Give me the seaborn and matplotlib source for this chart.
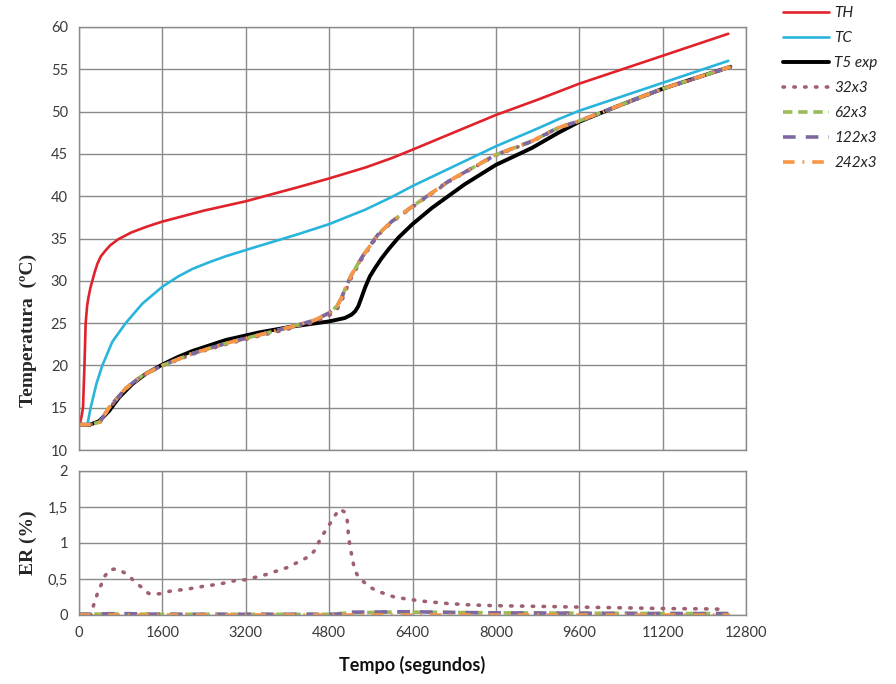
import matplotlib
matplotlib.use("Agg")
import matplotlib.pyplot as plt
import seaborn as sns

# ---------------- data ----------------
th_t = [13, 50, 77, 105, 128, 155, 180, 220, 256, 300, 352, 420, 512, 600, 750, 1000, 1300, 1600, 2400, 3200, 4200, 4800, 5500, 6000, 6400, 8000, 8800, 9600, 11200, 12460]
th_v = [13, 14, 15, 20, 25, 27, 28, 29.2, 30, 31, 32, 32.9, 33.6, 34.2, 34.9, 35.7, 36.4, 37.0, 38.3, 39.4, 41.06, 42.1, 43.4, 44.5, 45.5, 49.6, 51.4, 53.3, 56.6, 59.2]

tc_t = [160, 224, 333, 448, 640, 896, 1216, 1600, 1900, 2176, 2500, 2816, 3392, 4200, 4800, 5490, 6000, 6400, 8000, 8800, 9200, 9600, 11200, 12460]
tc_v = [13, 15, 17.8, 20, 22.8, 25, 27.3, 29.3, 30.5, 31.4, 32.2, 32.9, 34.0, 35.5, 36.7, 38.4, 39.9, 41.2, 45.9, 48.0, 49.1, 50.1, 53.4, 56.0]

exp_t = [0, 192, 384, 576, 768, 1024, 1280, 1600, 1900, 2176, 2816, 3456, 4100, 4800, 5100, 5230, 5300, 5360, 5420, 5490, 5580, 5680, 5800, 5950, 6130, 6400, 6770, 7400, 8000, 8690, 9200, 9600, 10400, 11200, 12000, 12500]
exp_v = [13, 12.95, 13.4, 14.6, 16.2, 17.8, 19.0, 20.1, 21.0, 21.7, 23.0, 23.9, 24.6, 25.2, 25.6, 26.0, 26.4, 27.0, 28.0, 29.2, 30.5, 31.5, 32.6, 33.8, 35.1, 36.7, 38.6, 41.4, 43.7, 45.7, 47.5, 48.8, 50.8, 52.7, 54.3, 55.3]

sim_t = [0, 200, 400, 576, 896, 1216, 1600, 2176, 2816, 3456, 4096, 4500, 4800, 4950, 5040, 5130, 5230, 5420, 5740, 6000, 6400, 7100, 8000, 8690, 9200, 9600, 10400, 11200, 12000, 12500]
sim_32 = [13, 13, 13.25, 14.9, 17.2, 18.75, 19.94, 21.32, 22.49, 23.48, 24.42, 25.08, 25.9, 26.6, 27.6, 29.0, 30.4, 32.5, 35.4, 36.9, 38.72, 41.73, 44.84, 46.45, 48.05, 48.85, 50.75, 52.65, 54.25, 55.25]
sim_62 = [13, 13, 13.3, 15.0, 17.3, 18.8, 20.0, 21.4, 22.6, 23.6, 24.6, 25.3, 26.2, 27.0, 28.0, 29.4, 30.7, 32.7, 35.5, 37.0, 38.8, 41.8, 44.9, 46.5, 48.1, 48.9, 50.8, 52.7, 54.3, 55.3]
sim_122 = [13, 13, 13.3, 15.0, 17.3, 18.8, 20.0, 21.4, 22.6, 23.6, 24.6, 25.3, 26.2, 27.0, 28.0, 29.4, 30.7, 32.7, 35.5, 37.0, 38.8, 41.8, 44.9, 46.5, 48.1, 48.9, 50.8, 52.7, 54.3, 55.3]
sim_242 = [13, 13, 13.3, 15.0, 17.3, 18.8, 20.0, 21.4, 22.6, 23.6, 24.6, 25.3, 26.2, 27.0, 28.0, 29.4, 30.7, 32.7, 35.5, 37.0, 38.8, 41.8, 44.9, 46.5, 48.1, 48.9, 50.8, 52.7, 54.3, 55.3]

er32_t = [0, 240, 273, 368, 432, 495, 590, 717, 864, 990, 1100, 1213, 1334, 1480, 1600, 1740, 2080, 2400, 2700, 3010, 3200, 3580, 4000, 4273, 4432, 4527, 4654, 4749, 4844, 4920, 5003, 5098, 5148, 5175, 5225, 5288, 5352, 5448, 5575, 5733, 5892, 6050, 6305, 6622, 7066, 7511, 7955, 8800, 9600, 10400, 11200, 12000, 12400]
er32_v = [0, 0, 0.12, 0.33, 0.43, 0.54, 0.63, 0.64, 0.59, 0.52, 0.44, 0.38, 0.30, 0.29, 0.30, 0.33, 0.36, 0.40, 0.43, 0.48, 0.49, 0.56, 0.66, 0.76, 0.82, 0.90, 1.09, 1.19, 1.30, 1.39, 1.47, 1.43, 1.31, 1.07, 0.86, 0.63, 0.54, 0.47, 0.39, 0.33, 0.29, 0.25, 0.22, 0.19, 0.16, 0.14, 0.13, 0.12, 0.11, 0.10, 0.09, 0.085, 0.08]

er_t = [0, 800, 1600, 2400, 3200, 4000, 4800, 5000, 5200, 5600, 6000, 6400, 7200, 8000, 9600, 11200, 12500]
er62_v = [0.01, 0.015, 0.01, 0.01, 0.01, 0.01, 0.01, 0.02, 0.03, 0.035, 0.04, 0.04, 0.035, 0.03, 0.025, 0.02, 0.02]
er122_v = [0.01, 0.02, 0.01, 0.01, 0.01, 0.01, 0.01, 0.015, 0.04, 0.04, 0.045, 0.045, 0.035, 0.03, 0.025, 0.02, 0.02]
er242_v = [0, 0, 0, 0, 0, 0, 0, 0, 0, 0, 0, 0, 0, 0, 0, 0, 0]

x_ticks = [0, 1600, 3200, 4800, 6400, 8000, 9600, 11200, 12800]
y_ticks_top = [10, 15, 20, 25, 30, 35, 40, 45, 50, 55, 60]
y_ticks_bot = [0, 0.5, 1, 1.5, 2]
y_labels_bot = ["0", "0,5", "1", "1,5", "2"]

labels = ["TH", "TC", "T5 exp", "32x3", "62x3", "122x3", "242x3"]

# ---------------- style ----------------
sns.set_theme(style="white")
plt.rcParams['font.family'] = ['Lato', 'DejaVu Sans']

C_TH = "#e0232b"
C_TC = "#29b5db"
C_EXP = "#000000"
C_32 = "#a0616e"
C_62 = "#9bbb59"
C_122 = "#7f68a0"
C_242 = "#f79646"

ls_32 = (0, (0.4, 2.6))
ls_62 = (0, (2.6, 1.6))
ls_122 = (0, (3.5, 2.8))
ls_242 = (0, (3.2, 2.2, 0.5, 2.2))

fig = plt.figure(figsize=(8.96, 6.84), dpi=100)
ax1 = fig.add_axes([79/896, 1-450/684, (746-79)/896, (450-27)/684])
ax2 = fig.add_axes([79/896, 1-615/684, (746-79)/896, (615-471)/684])

def draw(ax, x, y, color, lw, ls, label, cap="butt"):
    sns.lineplot(x=x, y=y, ax=ax, color=color, linewidth=lw, linestyle=ls,
                 label=label, estimator=None, sort=False,
                 solid_capstyle="round", solid_joinstyle="round",
                 dash_capstyle=cap, dash_joinstyle="round")

draw(ax1, th_t, th_v, C_TH, 1.9, "-", labels[0])
draw(ax1, tc_t, tc_v, C_TC, 1.9, "-", labels[1])
draw(ax1, exp_t, exp_v, C_EXP, 2.8, "-", labels[2])
draw(ax1, sim_t, sim_32, C_32, 2.6, ls_32, labels[3], cap="round")
draw(ax1, sim_t, sim_62, C_62, 2.6, ls_62, labels[4])
draw(ax1, sim_t, sim_122, C_122, 2.6, ls_122, labels[5])
draw(ax1, sim_t, sim_242, C_242, 2.6, ls_242, labels[6])

draw(ax2, er32_t, er32_v, C_32, 2.6, ls_32, labels[3], cap="round")
draw(ax2, er_t, er62_v, C_62, 2.6, ls_62, labels[4])
draw(ax2, er_t, er122_v, C_122, 2.6, ls_122, labels[5])
draw(ax2, er_t, er242_v, C_242, 2.6, ls_242, labels[6])

grid_c = "#8a8a8a"
tick_c = "#3a3a3a"
for ax in (ax1, ax2):
    ax.set_xlim(0, 12800)
    ax.set_xticks(x_ticks)
    ax.grid(True, color=grid_c, linewidth=1.0)
    ax.set_axisbelow(True)
    for s in ax.spines.values():
        s.set_color(grid_c)
        s.set_linewidth(1.0)
    ax.tick_params(axis="both", length=5, width=1.0, color=grid_c,
                   labelsize=10.5, labelcolor=tick_c, pad=3)
    ax.tick_params(axis="x", length=0)
    ax.set_xlabel("")
    ax.set_ylabel("")
    if ax.get_legend() is not None:
        ax.get_legend().remove()

ax1.set_ylim(10, 60)
ax1.set_yticks(y_ticks_top)
ax1.set_xticklabels([])

ax2.set_ylim(0, 2)
ax2.set_yticks(y_ticks_bot)
ax2.set_yticklabels(y_labels_bot)
ax2.set_xticklabels([str(v) for v in x_ticks])
ax2.tick_params(axis="x", pad=8)

fig.text(28/896, 1-330/684, "Temperatura  (ºC)", rotation=90, ha="center", va="center",
         family=["Liberation Serif", "DejaVu Serif"], fontweight="bold", fontsize=14)
fig.text(28/896, 1-543/684, "ER (%)", rotation=90, ha="center", va="center",
         family=["Liberation Serif", "DejaVu Serif"], fontweight="bold", fontsize=14)
fig.text(412/896, 1-665/684, "Tempo (segundos)", ha="center", va="center",
         fontweight="bold", fontsize=13, color="#111111")

handles, labs = ax1.get_legend_handles_labels()
leg = fig.legend(handles, labs, loc="upper left", bbox_to_anchor=(783/896, 1-6/684),
                 frameon=False, handlelength=3.0, handletextpad=0.35,
                 labelspacing=0.72, borderpad=0, borderaxespad=0,
                 prop={"style": "italic", "size": 11, "family": ["Lato", "DejaVu Sans"]})
for t in leg.get_texts():
    t.set_color("#222222")

fig.savefig("out.png", dpi=100, facecolor="white")
